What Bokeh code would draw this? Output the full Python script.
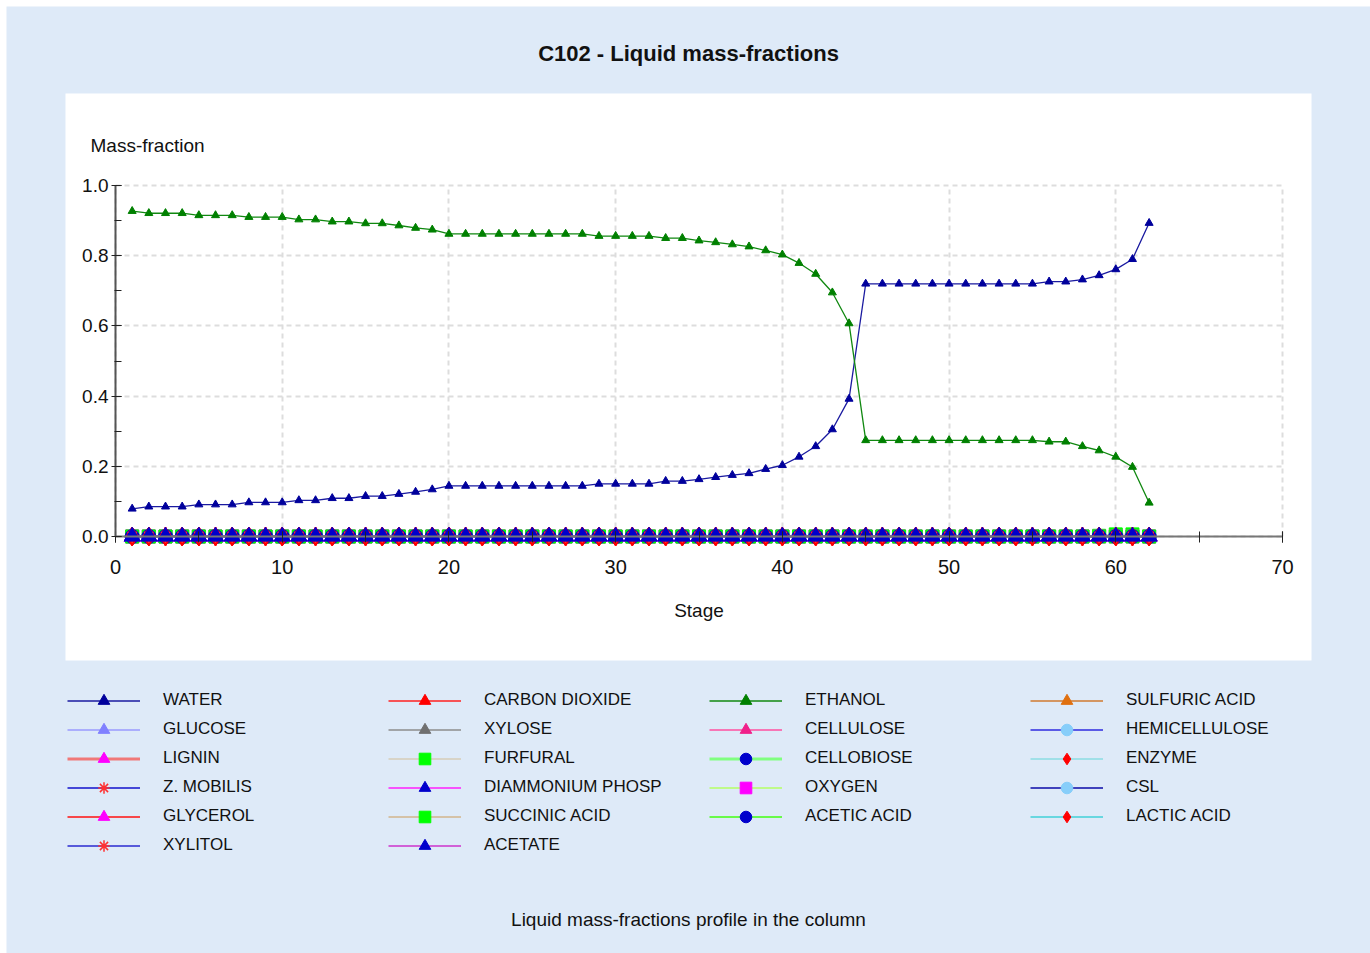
from bokeh.plotting import figure
from bokeh.models import (Range1d, SingleIntervalTicker, PrintfTickFormatter,
                          Legend, LegendItem, BoxAnnotation, Label)
from bokeh.embed import file_html
from bokeh.resources import INLINE

# ---------------------------------------------------------------- data
stages = list(range(1, 63))

water = [
    0.079, 0.085, 0.085, 0.085, 0.091, 0.091, 0.091, 0.097, 0.097, 0.097,
    0.103, 0.103, 0.109, 0.109, 0.115, 0.115, 0.121, 0.127, 0.134,
    0.144, 0.144, 0.144, 0.144, 0.144, 0.144, 0.144, 0.144, 0.144,
    0.150, 0.150, 0.150, 0.150, 0.158, 0.158,
    0.163, 0.169, 0.175, 0.180, 0.192, 0.203, 0.227, 0.257, 0.305, 0.392,
    0.720, 0.720, 0.720, 0.720, 0.720, 0.720, 0.720, 0.720, 0.720, 0.720, 0.720,
    0.726, 0.726, 0.732, 0.744, 0.761, 0.790, 0.893,
]

ethanol = [
    0.927, 0.921, 0.921, 0.921, 0.915, 0.915, 0.915, 0.910, 0.910, 0.910,
    0.903, 0.903, 0.897, 0.897, 0.892, 0.892, 0.886, 0.879, 0.874,
    0.862, 0.862, 0.862, 0.862, 0.862, 0.862, 0.862, 0.862, 0.862,
    0.856, 0.856, 0.856, 0.856, 0.850, 0.850,
    0.843, 0.838, 0.832, 0.826, 0.815, 0.803, 0.779, 0.748, 0.695, 0.607,
    0.274, 0.274, 0.274, 0.274, 0.274, 0.274, 0.274, 0.274, 0.274, 0.274, 0.274,
    0.270, 0.270, 0.257, 0.245, 0.227, 0.198, 0.096,
]

# trace components stay at (practically) zero along the whole column
trace = [0.0] * 62

furfural = [0.0] * 58 + [0.002, 0.006, 0.006, 0.0]

carbon_dioxide = list(trace)
sulfuric_acid = list(trace)
glucose = list(trace)
xylose = list(trace)
cellulose = list(trace)
hemicellulose = list(trace)
lignin = list(trace)
cellobiose = list(trace)
enzyme = list(trace)
z_mobilis = list(trace)
diammonium_phosp = list(trace)
oxygen = list(trace)
csl = list(trace)
glycerol = list(trace)
succinic_acid = list(trace)
acetic_acid = list(trace)
lactic_acid = list(trace)
xylitol = list(trace)
acetate = list(trace)

# name, values, line colour, line width, marker, marker colour, marker size
series = [
    ("WATER", water, "#1a1aa0", 1.3, "triangle", "#00009c", 8),
    ("CARBON DIOXIDE", carbon_dioxide, "#ff2020", 1.3, "triangle", "#ff0000", 8),
    ("ETHANOL", ethanol, "#108810", 1.3, "triangle", "#008000", 8),
    ("SULFURIC ACID", sulfuric_acid, "#d07a30", 1.3, "triangle", "#e07010", 8),
    ("GLUCOSE", glucose, "#9a9aff", 1.5, "triangle", "#8080ff", 8),
    ("XYLOSE", xylose, "#8c8c8c", 1.5, "triangle", "#707070", 8),
    ("CELLULOSE", cellulose, "#ff4fa0", 1.5, "triangle", "#f0208a", 8),
    ("HEMICELLULOSE", hemicellulose, "#5a5ae6", 1.8, "circle", "#87cefa", 14),
    ("LIGNIN", lignin, "#f07878", 3.0, "triangle", "#ff00ff", 16),
    ("FURFURAL", furfural, "#d8d4c8", 2.0, "square", "#00ff00", 13),
    ("CELLOBIOSE", cellobiose, "#80ff80", 3.0, "circle", "#0000cc", 14),
    ("ENZYME", enzyme, "#a0e0e8", 2.0, "diamond", "#ff0000", 19),
    ("Z. MOBILIS", z_mobilis, "#1010cc", 1.5, "asterisk", "#ff3030", 13),
    ("DIAMMONIUM PHOSP", diammonium_phosp, "#ff20ff", 1.5, "triangle", "#0000cc", 16),
    ("OXYGEN", oxygen, "#b4ff64", 1.5, "square", "#ff00ff", 13),
    ("CSL", csl, "#0a0aa8", 1.5, "circle", "#87cefa", 14),
    ("GLYCEROL", glycerol, "#ff1010", 1.5, "triangle", "#ff00ff", 16),
    ("SUCCINIC ACID", succinic_acid, "#d2b48c", 1.5, "square", "#00ff00", 13),
    ("ACETIC ACID", acetic_acid, "#40ff10", 1.5, "circle", "#0000cc", 14),
    ("LACTIC ACID", lactic_acid, "#40d0d8", 1.5, "diamond", "#ff0000", 19),
    ("XYLITOL", xylitol, "#2a2ad0", 1.5, "asterisk", "#ff3030", 13),
    ("ACETATE", acetate, "#cc33cc", 1.5, "triangle", "#0000cc", 16),
]

# ---------------------------------------------------------------- canvas
FONT = "Liberation Sans"
PAGE_BG = "#deeaf8"
W, H = 1364, 947
X0_PX, PX_PER_STAGE = 109.0, 1167.0 / 70.0   # where stage 0 sits, scale
Y0_PX, PX_PER_UNIT = 530.0, 351.0            # where fraction 0 sits, scale

# the frame covers the whole canvas; axes are pinned at the data origin
fig = figure(
    width=W, height=H,
    x_range=Range1d(-X0_PX / PX_PER_STAGE, (W - X0_PX) / PX_PER_STAGE),
    y_range=Range1d(-(H - Y0_PX) / PX_PER_UNIT, Y0_PX / PX_PER_UNIT),
    min_border_left=0, min_border_right=0, min_border_top=0, min_border_bottom=0,
    output_backend="svg", toolbar_location=None, title=None,
    background_fill_color=PAGE_BG, border_fill_color=PAGE_BG,
    outline_line_color=None,
)
fig.margin = (6, 0, 0, 6)


def sx(px):
    return (px - X0_PX) / PX_PER_STAGE


def sy(px):
    return (Y0_PX - px) / PX_PER_UNIT


# white chart panel behind the axes
fig.add_layout(BoxAnnotation(left=sx(59), right=sx(1305), bottom=sy(654), top=sy(87),
                             fill_color="white", fill_alpha=1.0, line_color=None,
                             level="image"))

# axes
xax = fig.xaxis[0]
xax.ticker = SingleIntervalTicker(interval=10, num_minor_ticks=2)
xax.fixed_location = 0
xax.bounds = (0, 70)
xax.axis_line_color = "#777777"
xax.axis_line_width = 2
xax.major_tick_line_color = "#222222"
xax.minor_tick_line_color = "#222222"
xax.major_tick_in = 5
xax.major_tick_out = 6
xax.minor_tick_in = 5
xax.minor_tick_out = 6
xax.major_label_standoff = 17
xax.major_label_text_font = FONT
xax.major_label_text_font_size = "20px"
xax.major_label_text_color = "#111111"
xax.axis_label = "Stage"
xax.axis_label_text_font = FONT
xax.axis_label_text_font_size = "19px"
xax.axis_label_text_font_style = "normal"
xax.axis_label_text_color = "#111111"
xax.axis_label_standoff = 23

yax = fig.yaxis[0]
yax.ticker = SingleIntervalTicker(interval=0.2, num_minor_ticks=2)
yax.formatter = PrintfTickFormatter(format="%.1f")
yax.fixed_location = 0
yax.bounds = (0, 1)
yax.axis_line_color = "#555555"
yax.axis_line_width = 2
yax.major_tick_line_color = "#222222"
yax.minor_tick_line_color = "#222222"
yax.major_tick_in = 6
yax.major_tick_out = 4
yax.minor_tick_in = 6
yax.minor_tick_out = 1
yax.major_label_standoff = 3
yax.major_label_text_font = FONT
yax.major_label_text_font_size = "19px"
yax.major_label_text_color = "#111111"

xg, yg = fig.xgrid[0], fig.ygrid[0]
for g in (xg, yg):
    g.grid_line_color = "#dddddd"
    g.grid_line_width = 2
    g.grid_line_dash = "5 4"
xg.bounds = (0, 70)
yg.bounds = (0, 1)
xg.cross_bounds = (0, 1)
yg.cross_bounds = (0, 70)

# ---------------------------------------------------------------- series
items = []
for name, vals, lc, lw, mk, mc, ms in series:
    ln = fig.line(stages, vals, line_color=lc, line_width=lw)
    if mk == "asterisk":
        sc = fig.scatter(stages, vals, marker=mk, size=ms, line_color=mc, line_width=1.5)
    else:
        sc = fig.scatter(stages, vals, marker=mk, size=ms, fill_color=mc, line_color=mc)
    items.append(LegendItem(label=name, renderers=[ln, sc]))

legend = Legend(
    items=items, orientation="horizontal", ncols=4,
    location=(61, H - 679.5 - 6 * 29),
    glyph_width=73, glyph_height=29, label_standoff=23, label_width=225,
    label_height=29, spacing=0, padding=0, margin=0,
    border_line_color=None, background_fill_alpha=0.0,
    label_text_font=FONT, label_text_font_size="17px", label_text_color="#111111",
)
fig.add_layout(legend)

# ---------------------------------------------------------------- texts
fig.add_layout(Label(x=sx(682), y=sy(47), text="C102 - Liquid mass-fractions",
                     text_align="center", text_baseline="middle",
                     text_font=FONT, text_font_size="22px",
                     text_font_style="bold", text_color="#111111"))
fig.add_layout(Label(x=sx(84), y=sy(139), text="Mass-fraction",
                     text_align="left", text_baseline="middle",
                     text_font=FONT, text_font_size="19px",
                     text_color="#111111"))
fig.add_layout(Label(x=sx(682), y=sy(913), text="Liquid mass-fractions profile in the column",
                     text_align="center", text_baseline="middle",
                     text_font=FONT, text_font_size="19px",
                     text_color="#111111"))

open("out.html", "w").write(file_html(fig, INLINE))
